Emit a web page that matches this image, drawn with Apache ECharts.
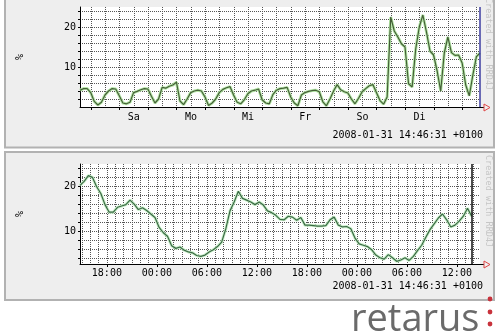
<!DOCTYPE html>
<html>
<head>
<meta charset="utf-8">
<script src="https://cdn.jsdelivr.net/npm/echarts@6/dist/echarts.min.js"></script>
<style>
html, body { margin: 0; padding: 0; background: #fff; }
#chart { width: 499px; height: 333px; }
</style>
</head>
<body>
<div id="chart"></div>
<script>
// 14 days, one value every 3 hours, from 2008-01-17 14:46:31
const weekStep = 3;
const weekValues = [
  4.2, 4.6, 4.6, 3.6, 1.4, 0.5, 1.2, 3.0, 4.0, 4.6,
  4.5, 2.8, 1.0, 0.8, 1.2, 3.6, 3.9, 4.3, 4.6, 4.5,
  2.7, 1.0, 2.0, 4.9, 4.7, 5.2, 5.5, 6.2, 1.5, 0.6,
  2.0, 3.6, 4.0, 4.2, 4.0, 2.5, 0.4, 1.0, 2.0, 3.6,
  4.4, 4.8, 5.1, 3.0, 1.2, 0.8, 1.8, 3.3, 4.0, 4.2,
  4.5, 1.8, 1.0, 0.8, 3.1, 4.2, 4.6, 4.7, 4.9, 2.5,
  1.0, 0.3, 3.0, 3.6, 3.9, 4.1, 4.2, 3.8, 1.3, 0.3,
  2.0, 4.0, 5.6, 4.3, 3.8, 3.5, 2.0, 0.8, 2.2, 3.8,
  4.6, 5.3, 5.6, 3.6, 1.6, 0.7, 2.5, 22.5, 19.0, 17.5,
  15.8, 15.0, 5.8, 5.0, 14.5, 20.0, 23.0, 18.8, 14.0, 13.0,
  9.0, 4.0, 13.5, 17.5, 13.6, 12.9, 13.0, 11.0, 5.5, 2.8,
  8.0, 12.6, 13.5
];
const weekLabels = ['Sa', 'Mo', 'Mi', 'Fr', 'So', 'Di'];

// 48 hours, one value every 30 minutes, from 2008-01-29 14:46:31
const dayStep = 0.5;
const dayValues = [
  20.2, 21.1, 22.4, 22.0, 19.9, 18.4, 15.9, 14.2, 14.2, 15.3,
  15.6, 15.9, 16.9, 16.0, 14.8, 15.2, 14.6, 13.8, 13.0, 10.8,
  9.6, 8.8, 6.7, 6.1, 6.4, 5.7, 5.3, 5.1, 4.5, 4.3,
  4.6, 5.3, 5.8, 6.5, 7.5, 10.5, 14.5, 16.5, 18.9, 17.3,
  16.9, 16.5, 15.9, 16.5, 15.8, 14.5, 14.1, 13.5, 12.6, 12.5,
  13.3, 13.1, 12.4, 13.0, 11.3, 11.3, 11.2, 11.1, 11.1, 11.2,
  12.5, 13.1, 11.3, 10.9, 11.0, 10.5, 8.4, 7.1, 6.8, 6.5,
  5.8, 4.6, 4.0, 3.7, 4.7, 4.0, 3.2, 3.5, 4.0, 3.4,
  4.3, 5.6, 6.8, 8.6, 10.3, 11.6, 12.9, 13.8, 12.5, 10.9,
  11.3, 12.2, 13.3, 15.1, 13.3
];
const dayLabels = ['18:00', '00:00', '06:00', '12:00', '18:00', '00:00', '06:00', '12:00'];

const yLabels = [10, 20];
const stamp = '2008-01-31 14:46:31 +0100';

const mono = 'DejaVu Sans Mono';
// hours from 14:46:31 to the next midnight
const toMidnight = 24 - (14 + 46 / 60 + 31 / 3600);

const range = (start, step, end) => {
  const out = [];
  for (let v = start; v <= end; v += step) out.push(v);
  return out;
};

// top graph ticks (hours from start)
const weekDayTicks = range(toMidnight, 24, 336);
const weekGridTicks = range(toMidnight, 12, 336);
const weekLabelTicks = weekLabels.map((l, i) => toMidnight + 36 + i * 48);

// bottom graph ticks
const dayGridTicks = range(toMidnight % 1, 1, 48);
const dayLabelTicks = dayLabels.map((l, i) => toMidnight - 6 + i * 6);

const gridLine = { show: true, lineStyle: { color: '#555', type: [1, 1], width: 1 } };

function xAxes(gridIndex, max, majorTicks, labelTicks, labels, minorTicks, labelMargin) {
  return [
    {
      gridIndex: gridIndex, type: 'value', min: 0, max: max, position: 'bottom',
      axisLine: { show: true, lineStyle: { color: '#000', width: 1 } },
      axisTick: { show: true, customValues: majorTicks, length: 3, lineStyle: { color: '#000' } },
      axisLabel: {
        customValues: labelTicks, margin: labelMargin, color: '#000', fontFamily: mono, fontSize: 10,
        formatter: v => labels[labelTicks.findIndex(t => Math.abs(t - v) < 0.01)] || ''
      },
      splitLine: { show: false }
    },
    {
      gridIndex: gridIndex, type: 'value', min: 0, max: max, position: 'top',
      axisLine: { show: false },
      axisTick: { show: false, customValues: minorTicks },
      axisLabel: { show: false },
      splitLine: gridLine
    }
  ];
}

function yAxis(gridIndex, min) {
  return {
    gridIndex: gridIndex, type: 'value', min: min, max: 25,
    axisLine: { show: true, lineStyle: { color: '#000', width: 1 } },
    axisTick: { show: true, customValues: range(4, 2, 24).concat(min < 2 ? [2] : []), length: 2, lineStyle: { color: '#000' } },
    axisLabel: { customValues: yLabels, margin: 4, color: '#000', fontFamily: mono, fontSize: 10 },
    splitLine: gridLine
  };
}

function lineSeries(idx, values, step, halo, main, mark) {
  const data = values.map((v, i) => [i * step, v]);
  return [
    {
      type: 'line', xAxisIndex: idx * 2, yAxisIndex: idx, data: data, showSymbol: false,
      lineStyle: { color: halo, width: 3 }, silent: true
    },
    {
      type: 'line', xAxisIndex: idx * 2, yAxisIndex: idx, data: data, showSymbol: false,
      lineStyle: { color: main, width: 1.2 }, silent: true,
      markLine: {
        symbol: 'none', silent: true, label: { show: false },
        lineStyle: { color: mark.color, type: 'solid', width: 1.5 },
        data: [{ xAxis: mark.at }]
      }
    }
  ];
}

const chart = echarts.init(document.getElementById('chart'), null, { renderer: 'canvas' });

chart.setOption({
  animation: false,
  backgroundColor: '#fff',
  grid: [
    { left: 80, top: 7, width: 400, height: 100, show: true, backgroundColor: '#fff', borderWidth: 0 },
    { left: 80, top: 164, width: 400, height: 100, show: true, backgroundColor: '#fff', borderWidth: 0 }
  ],
  xAxis: xAxes(0, 336, weekDayTicks, weekLabelTicks, weekLabels, weekGridTicks, 5)
    .concat(xAxes(1, 48, dayLabelTicks, dayLabelTicks, dayLabels, dayGridTicks, 4)),
  yAxis: [yAxis(0, 0), yAxis(1, 2.6)],
  series: lineSeries(0, weekValues, weekStep, '#b6e8a8', '#455f38', { at: 336, color: '#3c3ca0' })
    .concat(lineSeries(1, dayValues, dayStep, '#c8f0c8', '#3b6845', { at: 47, color: '#111' })),
  graphic: [
    // panels
    { type: 'rect', z: -10, shape: { x: 5, y: -5, width: 489, height: 152.5 },
      style: { fill: '#eeeeee', stroke: '#b2b2b2', lineWidth: 2 } },
    { type: 'rect', z: -10, shape: { x: 5, y: 152, width: 489, height: 148 },
      style: { fill: '#eeeeee', stroke: '#b2b2b2', lineWidth: 2 } },
    // axis arrows
    { type: 'polyline', z: 10, shape: { points: [[480, 107.5], [484, 107.5]] }, style: { stroke: '#000', lineWidth: 1 } },
    { type: 'polygon', z: 10, shape: { points: [[484, 104], [490, 107.5], [484, 111]] },
      style: { fill: 'none', stroke: '#e04848', lineWidth: 1 } },
    { type: 'polyline', z: 10, shape: { points: [[480, 264.5], [484, 264.5]] }, style: { stroke: '#000', lineWidth: 1 } },
    { type: 'polygon', z: 10, shape: { points: [[484, 261], [490, 264.5], [484, 268]] },
      style: { fill: 'none', stroke: '#e04848', lineWidth: 1 } },
    // vertical labels
    { type: 'text', z: 10, x: 20, y: 57, rotation: Math.PI / 2,
      style: { text: '%', fill: '#000', font: '10px ' + mono, textAlign: 'center', textVerticalAlign: 'middle' } },
    { type: 'text', z: 10, x: 20, y: 214, rotation: Math.PI / 2,
      style: { text: '%', fill: '#000', font: '10px ' + mono, textAlign: 'center', textVerticalAlign: 'middle' } },
    { type: 'text', z: 10, x: 488, y: -2, rotation: -Math.PI / 2,
      style: { text: 'Created with RRD4J', fill: '#c6c6c6', font: '8.5px ' + mono, textAlign: 'left', textVerticalAlign: 'middle' } },
    { type: 'text', z: 10, x: 488, y: 155, rotation: -Math.PI / 2,
      style: { text: 'Created with RRD4J', fill: '#c6c6c6', font: '8.5px ' + mono, textAlign: 'left', textVerticalAlign: 'middle' } },
    // timestamps
    { type: 'text', z: 10, x: 483, y: 135,
      style: { text: stamp, fill: '#000', font: '10px ' + mono, textAlign: 'right', textVerticalAlign: 'middle' } },
    { type: 'text', z: 10, x: 483, y: 286,
      style: { text: stamp, fill: '#000', font: '10px ' + mono, textAlign: 'right', textVerticalAlign: 'middle' } },
    // logo
    { type: 'text', z: 10, x: 351, y: 320,
      style: { text: 'retarus', fill: '#6a6a6a', font: '38px "Open Sans"', textAlign: 'left', textVerticalAlign: 'middle' } },
    { type: 'circle', z: 10, shape: { cx: 490, cy: 299, r: 2.4 }, style: { fill: '#c8323c' } },
    { type: 'circle', z: 10, shape: { cx: 490, cy: 312, r: 2.4 }, style: { fill: '#c8323c' } },
    { type: 'circle', z: 10, shape: { cx: 490, cy: 324, r: 2.4 }, style: { fill: '#c8323c' } }
  ]
});
</script>
</body>
</html>
